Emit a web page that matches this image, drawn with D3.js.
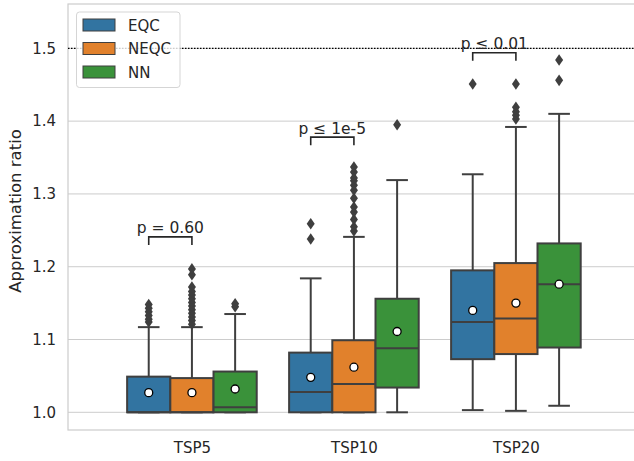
<!DOCTYPE html>
<html>
<head>
<meta charset="utf-8">
<script src="https://cdn.jsdelivr.net/npm/d3@7"></script>
<style>
  body { margin: 0; background: #fff; }
  text { font-family: "DejaVu Sans", sans-serif; fill: #262626; }
</style>
</head>
<body>
<svg id="vis" width="634" height="461"></svg>
<script>
// categories and series
var categories = ["TSP5", "TSP10", "TSP20"];
var seriesNames = ["EQC", "NEQC", "NN"];
var seriesColors = ["#3274a1", "#e1812c", "#3a923a"];

// box statistics, one row per category, one value per series
var q1Vals     = [[1.000, 1.000, 1.000], [1.000, 1.000, 1.034], [1.073, 1.080, 1.089]];
var medianVals = [[1.000, 1.000, 1.007], [1.028, 1.039, 1.088], [1.124, 1.129, 1.176]];
var q3Vals     = [[1.049, 1.047, 1.056], [1.082, 1.099, 1.156], [1.195, 1.205, 1.232]];
var whiskLo    = [[1.000, 1.000, 1.000], [1.000, 1.000, 1.000], [1.003, 1.002, 1.009]];
var whiskHi    = [[1.117, 1.117, 1.135], [1.184, 1.241, 1.319], [1.327, 1.392, 1.410]];
var meanVals   = [[1.027, 1.027, 1.032], [1.048, 1.062, 1.111], [1.140, 1.150, 1.176]];
var outliers   = [
    [[1.124, 1.128, 1.133, 1.138, 1.143, 1.148],
     [1.121, 1.126, 1.131, 1.136, 1.141, 1.146, 1.151, 1.156, 1.161, 1.166, 1.172, 1.189, 1.197],
     [1.145, 1.149]],
    [[1.238, 1.259],
     [1.249, 1.255, 1.265, 1.275, 1.282, 1.294, 1.305, 1.312, 1.318, 1.322, 1.330, 1.337],
     [1.395]],
    [[1.451],
     [1.403, 1.408, 1.413, 1.419, 1.451],
     [1.456, 1.484]]
];

// significance brackets (EQC vs NEQC)
var pLabels = ["p = 0.60", "p \u2264 1e-5", "p \u2264 0.01"];
var pTop    = [1.241, 1.378, 1.494];
var pLow    = [1.230, 1.367, 1.483];

var yTicks = [1.0, 1.1, 1.2, 1.3, 1.4, 1.5];
var refLine = 1.5;

window.onload = function(){
    drawChart();
};

function drawChart(){
    let svg = d3.select("#vis");
    let left = 68, right = 634, top = 4, bottom = 430;

    let xScale = d3.scaleLinear().domain([-0.765, 2.729]).range([left, right]);
    let yScale = d3.scaleLinear().domain([0.9757, 1.5609]).range([bottom, top]);
    let groupWidth = 0.8;
    let boxW = groupWidth / seriesNames.length;

    // grid
    svg.append("g").selectAll("line").data(yTicks).enter().append("line")
        .attr("x1", left).attr("x2", right)
        .attr("y1", function(d){ return yScale(d); })
        .attr("y2", function(d){ return yScale(d); })
        .attr("stroke", "#cccccc").attr("stroke-width", 1);

    // spines
    svg.append("rect").attr("x", left).attr("y", top)
        .attr("width", right - left + 2).attr("height", bottom - top)
        .attr("fill", "none").attr("stroke", "#cccccc").attr("stroke-width", 1.2);

    // y axis labels
    let yAxis = d3.axisLeft(yScale).tickValues(yTicks).tickFormat(d3.format(".1f"))
        .tickSize(0).tickPadding(12);
    let gy = svg.append("g").attr("transform", "translate(" + left + ",0)").call(yAxis);
    gy.select(".domain").remove();
    gy.selectAll("text").style("font-size", "15px").style("font-family", "DejaVu Sans").attr("fill", "#262626");

    // x axis labels
    let xAxis = d3.axisBottom(xScale).tickValues([0, 1, 2])
        .tickFormat(function(d){ return categories[d]; })
        .tickSize(0).tickPadding(12);
    let gx = svg.append("g").attr("transform", "translate(0," + bottom + ")").call(xAxis);
    gx.select(".domain").remove();
    gx.selectAll("text").style("font-size", "15px").style("font-family", "DejaVu Sans").attr("fill", "#262626");

    svg.append("text")
        .attr("transform", "translate(21,211) rotate(-90)")
        .attr("text-anchor", "middle")
        .style("font-size", "16.5px")
        .text("Approximation ratio");

    // reference line
    svg.append("line")
        .attr("x1", left).attr("x2", right)
        .attr("y1", yScale(refLine)).attr("y2", yScale(refLine))
        .attr("stroke", "#000").attr("stroke-width", 1.2).attr("stroke-dasharray", "1.5,1.5");

    let edge = "#3f3f3f";
    let marks = svg.append("g");

    categories.forEach(function(cat, ci){
        seriesNames.forEach(function(s, si){
            let cx = ci + (si - 1) * boxW;
            let x0 = xScale(cx - boxW / 2), x1 = xScale(cx + boxW / 2);
            let xc = xScale(cx);
            let capW = (x1 - x0) / 4;

            // whiskers
            marks.append("line").attr("x1", xc).attr("x2", xc)
                .attr("y1", yScale(q3Vals[ci][si])).attr("y2", yScale(whiskHi[ci][si]))
                .attr("stroke", edge).attr("stroke-width", 2);
            marks.append("line").attr("x1", xc).attr("x2", xc)
                .attr("y1", yScale(q1Vals[ci][si])).attr("y2", yScale(whiskLo[ci][si]))
                .attr("stroke", edge).attr("stroke-width", 2);
            [whiskHi[ci][si], whiskLo[ci][si]].forEach(function(v){
                marks.append("line").attr("x1", xc - capW).attr("x2", xc + capW)
                    .attr("y1", yScale(v)).attr("y2", yScale(v))
                    .attr("stroke", edge).attr("stroke-width", 2);
            });

            // box
            marks.append("rect")
                .attr("x", x0).attr("width", x1 - x0)
                .attr("y", yScale(q3Vals[ci][si]))
                .attr("height", yScale(q1Vals[ci][si]) - yScale(q3Vals[ci][si]))
                .attr("fill", seriesColors[si])
                .attr("stroke", edge).attr("stroke-width", 2);

            // median
            marks.append("line").attr("x1", x0).attr("x2", x1)
                .attr("y1", yScale(medianVals[ci][si])).attr("y2", yScale(medianVals[ci][si]))
                .attr("stroke", edge).attr("stroke-width", 2);

            // outliers
            marks.selectAll(null).data(outliers[ci][si]).enter().append("path")
                .attr("d", function(d){
                    let y = yScale(d);
                    return "M" + xc + "," + (y - 5.8) + "L" + (xc + 4) + "," + y +
                        "L" + xc + "," + (y + 5.8) + "L" + (xc - 4) + "," + y + "Z";
                })
                .attr("fill", edge);

            // mean
            marks.append("circle").attr("cx", xc).attr("cy", yScale(meanVals[ci][si]))
                .attr("r", 4).attr("fill", "#fff").attr("stroke", "#000").attr("stroke-width", 1.3);
        });

        // bracket
        let xa = xScale(ci - boxW), xb = xScale(ci);
        marks.append("path")
            .attr("d", "M" + xa + "," + yScale(pLow[ci]) + "L" + xa + "," + yScale(pTop[ci]) +
                "L" + xb + "," + yScale(pTop[ci]) + "L" + xb + "," + yScale(pLow[ci]))
            .attr("fill", "none").attr("stroke", "#262626").attr("stroke-width", 1.6);
        marks.append("text")
            .attr("x", (xa + xb) / 2).attr("y", yScale(pTop[ci]) - 3.5)
            .attr("text-anchor", "middle")
            .style("font-size", "15.5px")
            .text(pLabels[ci]);
    });

    // legend
    let lg = svg.append("g");
    lg.append("rect").attr("x", 76.5).attr("y", 12).attr("width", 103.5).attr("height", 75.5)
        .attr("rx", 3).attr("fill", "#fff").attr("fill-opacity", 0.8)
        .attr("stroke", "#d5d5d5").attr("stroke-width", 1);
    seriesNames.forEach(function(s, i){
        let yy = 19 + i * 23.5;
        lg.append("rect").attr("x", 83).attr("y", yy).attr("width", 32).attr("height", 12)
            .attr("fill", seriesColors[i]).attr("stroke", edge).attr("stroke-width", 1);
        lg.append("text").attr("x", 128).attr("y", yy + 11.5)
            .style("font-size", "15px").text(s);
    });
}
</script>
</body>
</html>
